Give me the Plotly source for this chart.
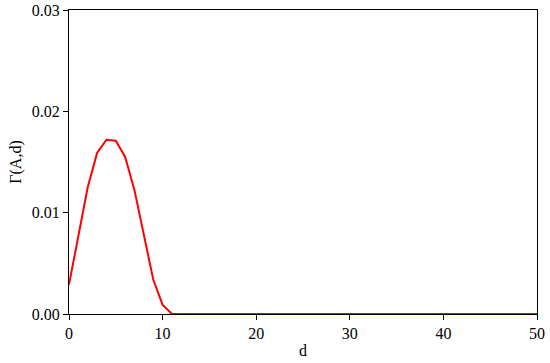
import plotly.graph_objects as go

# data
d = list(range(0, 51))
gamma_head = [0.0029, 0.0076, 0.0125, 0.0159, 0.0172, 0.0171, 0.0155, 0.0122,
              0.0078, 0.0034, 0.0009, 0.0]
gamma = gamma_head + [0.0] * (len(d) - len(gamma_head))

fig = go.Figure()
fig.add_trace(go.Scatter(
    x=d, y=gamma, mode="lines",
    line=dict(color="#ff0000", width=2),
    showlegend=False,
))

serif = dict(family="Liberation Serif", size=16, color="black")
axis_style = dict(
    showgrid=False, zeroline=False, automargin=False,
    showline=True, linecolor="black", linewidth=1, mirror=True,
    ticks="outside", ticklen=5, tickcolor="black", tickwidth=1,
    tickfont=serif,
)

fig.update_xaxes(range=[0, 50], tickvals=[0, 10, 20, 30, 40, 50],
                 title=dict(text="d", font=serif, standoff=3),
                 **axis_style)
fig.update_yaxes(range=[0, 0.03], tickvals=[0, 0.01, 0.02, 0.03], tickformat=".2f",
                 title=dict(text="Γ(A,d)", font=serif, standoff=6),
                 **axis_style)

fig.update_layout(
    width=550, height=363,
    margin=dict(l=69, r=13, t=10, b=49),
    plot_bgcolor="white", paper_bgcolor="white",
)

# page body has a default 8px margin; drop it so the figure sits at 0,0
fig.write_html("out.html", config={"displayModeBar": False},
               post_script="document.body.style.margin='0';")
